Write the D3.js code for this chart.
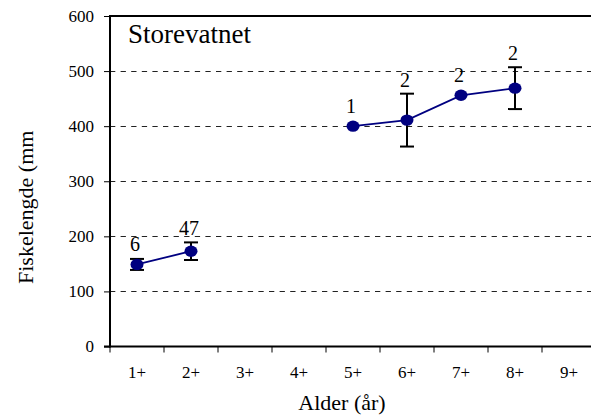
<!DOCTYPE html>
<html>
<head>
<meta charset="utf-8">
<script src="https://cdn.jsdelivr.net/npm/d3@7"></script>
<style>
  html, body { margin: 0; padding: 0; background: #fff; }
  svg { display: block; }
</style>
</head>
<body>
<div id="chart"></div>
<script>
// Age classes (x categories)
const ages = ["1+", "2+", "3+", "4+", "5+", "6+", "7+", "8+", "9+"];
// Mean fish length (mm) per age class; null where no fish were caught
const meanLength = [149, 173, null, null, 400, 411, 456, 469, null];
// Half-width of the error bar (mm); 0 means no bar drawn
const errLength = [10, 16, null, null, 0, 48, 0, 38, null];
// Number of fish behind each mean
const counts = [6, 47, null, null, 1, 2, 2, 2, null];
// Y axis ticks
const yTicks = [0, 100, 200, 300, 400, 500, 600];
const gridTicks = [100, 200, 300, 400, 500];

const lakeName = "Storevatnet";
const xTitle = "Alder (år)";
const yTitle = "Fiskelengde (mm";

const FONT = "Liberation Serif";

const W = 591, H = 417;
const plot = { left: 110, top: 16, bottom: 346.5, band: 54 };

const svg = d3.select("#chart").append("svg")
  .attr("width", W).attr("height", H);

const x = d3.scaleBand()
  .domain(ages)
  .range([plot.left, plot.left + plot.band * ages.length])
  .padding(0);

const y = d3.scaleLinear()
  .domain([0, 600])
  .range([plot.bottom, plot.top]);

const plotRight = x.range()[1];

// Dashed gridlines
svg.append("g").selectAll("line")
  .data(gridTicks)
  .join("line")
  .attr("x1", plot.left).attr("x2", plotRight)
  .attr("y1", d => Math.round(y(d)) + 0.5).attr("y2", d => Math.round(y(d)) + 0.5)
  .attr("stroke", "#222")
  .attr("stroke-width", 1)
  .attr("stroke-dasharray", "5.3,5.3");

// Top frame line
svg.append("line")
  .attr("x1", plot.left).attr("x2", plotRight)
  .attr("y1", y(600)).attr("y2", y(600))
  .attr("stroke", "#000").attr("stroke-width", 2);

// Y axis
const yAxis = svg.append("g")
  .attr("transform", `translate(${plot.left},0)`)
  .call(d3.axisLeft(y).tickValues(yTicks).tickSize(6).tickSizeOuter(0).tickPadding(10));
yAxis.attr("font-family", FONT).attr("font-size", 17);
yAxis.select(".domain").remove();
yAxis.selectAll(".tick line").attr("stroke", "#000").attr("stroke-width", 1);
yAxis.selectAll(".tick text").attr("fill", "#000");
svg.append("line")
  .attr("x1", plot.left).attr("x2", plot.left)
  .attr("y1", y(600) - 1).attr("y2", plot.bottom + 1)
  .attr("stroke", "#000").attr("stroke-width", 2);

// X axis: labels centred in each band, ticks on band boundaries
const xAxis = svg.append("g")
  .attr("transform", `translate(0,${plot.bottom})`)
  .call(d3.axisBottom(x).tickSize(0).tickPadding(19));
xAxis.attr("font-family", FONT).attr("font-size", 17);
xAxis.select(".domain").remove();
xAxis.selectAll(".tick text").attr("fill", "#000");
const boundaries = ages.map(a => x(a)).concat([plotRight]);
svg.append("g").selectAll("line")
  .data(boundaries)
  .join("line")
  .attr("x1", d => d).attr("x2", d => d)
  .attr("y1", plot.bottom).attr("y2", plot.bottom + 6)
  .attr("stroke", "#000").attr("stroke-width", 1);
svg.append("line")
  .attr("x1", plot.left - 6).attr("x2", plotRight)
  .attr("y1", plot.bottom).attr("y2", plot.bottom)
  .attr("stroke", "#000").attr("stroke-width", 2);

// Series records
const rows = ages.map((a, i) => ({
  age: a, mean: meanLength[i], err: errLength[i], n: counts[i]
}));
const present = rows.filter(d => d.mean !== null);
const cx = d => x(d.age) + x.bandwidth() / 2;

// Connecting line (breaks where age classes are missing)
const line = d3.line()
  .defined(d => d.mean !== null)
  .x(cx)
  .y(d => y(d.mean));
svg.append("path")
  .datum(rows)
  .attr("d", line)
  .attr("fill", "none")
  .attr("stroke", "#000080")
  .attr("stroke-width", 1.8);

// Error bars
const withErr = present.filter(d => d.err > 0);
const capHalf = 7;
const eb = svg.append("g").attr("stroke", "#000").attr("stroke-width", 2);
eb.selectAll("line.v").data(withErr).join("line").attr("class", "v")
  .attr("x1", cx).attr("x2", cx)
  .attr("y1", d => y(d.mean - d.err)).attr("y2", d => y(d.mean + d.err));
eb.selectAll("line.t").data(withErr).join("line").attr("class", "t")
  .attr("x1", d => cx(d) - capHalf).attr("x2", d => cx(d) + capHalf)
  .attr("y1", d => y(d.mean + d.err)).attr("y2", d => y(d.mean + d.err));
eb.selectAll("line.b").data(withErr).join("line").attr("class", "b")
  .attr("x1", d => cx(d) - capHalf).attr("x2", d => cx(d) + capHalf)
  .attr("y1", d => y(d.mean - d.err)).attr("y2", d => y(d.mean - d.err));

// Markers
svg.append("g").selectAll("ellipse")
  .data(present)
  .join("ellipse")
  .attr("cx", cx)
  .attr("cy", d => y(d.mean))
  .attr("rx", 6.5)
  .attr("ry", 5.7)
  .attr("fill", "#000080");

// Sample size labels above each point / error bar
svg.append("g")
  .attr("font-family", FONT).attr("font-size", 20)
  .selectAll("text")
  .data(present)
  .join("text")
  .attr("x", d => cx(d) - 2)
  .attr("y", d => Math.min(y(d.mean + d.err), y(d.mean) - 6) - 7)
  .attr("text-anchor", "middle")
  .text(d => d.n);

// Lake name
svg.append("text")
  .attr("x", 128).attr("y", 43)
  .attr("font-family", FONT).attr("font-size", 27)
  .text(lakeName);

// Axis titles
svg.append("text")
  .attr("x", 342).attr("y", 410)
  .attr("text-anchor", "middle")
  .attr("font-family", FONT).attr("font-size", 22)
  .text(xTitle);

svg.append("text")
  .attr("transform", "translate(33,284) rotate(-90)")
  .attr("text-anchor", "start")
  .attr("font-family", FONT).attr("font-size", 22)
  .text(yTitle);
</script>
</body>
</html>
